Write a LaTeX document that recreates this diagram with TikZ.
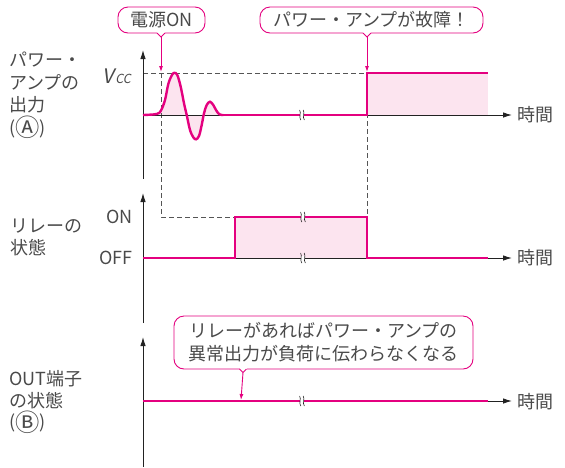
\documentclass[tikz,border=0pt]{standalone}
\usepackage{fontspec}
\setmainfont{Noto Sans CJK JP}
\newfontfamily\slfont{Noto Sans CJK JP}[FakeSlant=0.2]
\usetikzlibrary{arrows.meta}
\definecolor{mag}{HTML}{E4007F}
\definecolor{pinkfill}{HTML}{FCE4EF}
\definecolor{txt}{HTML}{4A4A4A}
\definecolor{axc}{HTML}{222222}
\definecolor{dsh}{HTML}{555555}
\newcommand\mycircled[1]{\raisebox{-2.3pt}{\scalebox{1.35}{#1}}}
\begin{document}
\begin{tikzpicture}[x=1pt,y=-1pt,
  axis/.style={draw=axc,line width=0.9pt},
  axarrow/.style={axis,-{Latex[length=9pt,width=5.5pt]}},
  sig/.style={draw=mag,line width=2.4pt},
  guide/.style={draw=dsh,line width=0.9pt,dash pattern=on 5pt off 3pt},
  lbl/.style={text=txt,font=\fontsize{18}{22}\selectfont,inner sep=0pt},
  callout/.style={draw=mag,line width=0.9pt,fill=white,rounded corners=10pt,text=txt,
    font=\fontsize{18}{23}\selectfont,inner sep=0pt,align=center},
  ptr/.style={draw=mag,line width=0.9pt,-{Latex[length=6pt,width=4pt]}},
  notch/.style={draw=mag,line width=0.9pt},
  brk/.pic={
    \fill[white] (-1.7,-2.2) rectangle (1.7,2.2);
    \draw[axc,line width=0.6pt] (-2.4,-5) .. controls (-0.4,-2) and (-3.6,2) .. (-1.2,5);
    \draw[axc,line width=0.6pt] (1.2,-5) .. controls (3.2,-2) and (0,2) .. (2.4,5);
  }
]
\useasboundingbox (0,0) rectangle (565,467);

% ---------- fills ----------
\fill[pinkfill] plot[smooth,tension=0.55] coordinates {
 (143,115) (156.7,114) (161,110.5) (165,100) (168.3,84) (171.7,75.5) (174.3,72.8)
 (177.3,75) (180.7,86.7) (184,103.3) (186.7,115) (190,130) (193.3,137.3) (196,139.3)
 (199,136) (201.7,125) (204,113.3) (206.7,105) (210,101.7) (213.3,105) (216,110)
 (219.3,114.3) (223.3,115)} -- cycle;
\fill[pinkfill] (367,73) rectangle (488,115);
\fill[pinkfill] (235,217) rectangle (367,258);

% ---------- dashed guides ----------
\coordinate (vccL) at (143,73);
\coordinate (vccR) at (367,73);
\coordinate (onA) at (161,73);
\coordinate (onB) at (161,217);
\coordinate (onC) at (235,217);
\coordinate (offA) at (367,217);
\draw[guide] (vccL) -- (vccR) -- (offA);
\draw[guide] (onA) -- (onB) -- (onC);

% ---------- axes ----------
\coordinate (a1b) at (143,179); \coordinate (a1t) at (143,50);
\coordinate (a1o) at (143,115); \coordinate (a1r) at (512,115);
\coordinate (a2b) at (143,323); \coordinate (a2t) at (143,193);
\coordinate (a2o) at (143,258); \coordinate (a2r) at (512,258);
\coordinate (a3b) at (143,467); \coordinate (a3t) at (143,337);
\coordinate (a3o) at (143,401); \coordinate (a3r) at (512,401);
\draw[axarrow] (a1b) -- (a1t);
\draw[axarrow] (a1o) -- (a1r);
\draw[axarrow] (a2b) -- (a2t);
\draw[axarrow] (a2o) -- (a2r);
\draw[axarrow] (a3b) -- (a3t);
\draw[axarrow] (a3o) -- (a3r);

% ---------- signals ----------
\draw[sig] plot[smooth,tension=0.55] coordinates {
 (143,115) (156.7,114) (161,110.5) (165,100) (168.3,84) (171.7,75.5) (174.3,72.8)
 (177.3,75) (180.7,86.7) (184,103.3) (186.7,115) (190,130) (193.3,137.3) (196,139.3)
 (199,136) (201.7,125) (204,113.3) (206.7,105) (210,101.7) (213.3,105) (216,110)
 (219.3,114.3) (223.3,115)};
\draw[sig] (223,115) -- (367,115) -- (367,73) -- (488,73);
\draw[sig] (a2o) -- (235,258) -- (235,217) -- (367,217) -- (367,258) -- (488,258);
\draw[sig] (a3o) -- (488,401);

% ---------- break marks ----------
\pic at (302,115) {brk};
\pic at (303,217) {brk};
\pic at (303,258) {brk};
\pic at (302,401) {brk};

% ---------- labels ----------
\node[lbl,anchor=west,align=left,font=\fontsize{18}{22.7}\selectfont] (labA) at (9,95.5)
  {パワー・\\アンプの\\出力\\(\mycircled{Ⓐ})};
\node[lbl,anchor=west,align=left] (labR) at (10,237) {リレーの\\状態};
\node[lbl,anchor=west,align=left,font=\fontsize{18}{21.5}\selectfont] (labO) at (9,402)
  {OUT端子\\の状態\\(\mycircled{Ⓑ})};
\node[lbl,anchor=east] (vcc) at (131,76)
  {{\slfont\fontsize{20}{20}\selectfont V}\kern1.5pt{\slfont\fontsize{12.5}{12.5}\selectfont CC}};
\node[lbl,anchor=east] (on) at (133,217) {ON};
\node[lbl,anchor=east] (off) at (133,258) {OFF};
\node[lbl,anchor=west] (t1) at (517,115) {時間};
\node[lbl,anchor=west] (t2) at (517,258) {時間};
\node[lbl,anchor=west] (t3) at (517,402) {時間};

% ---------- callouts ----------
\node[callout,minimum width=87pt,minimum height=26pt] (c1) at (161.5,20) {電源ON};
\node[callout,minimum width=223pt,minimum height=26pt] (c2) at (371.5,20) {パワー・アンプが故障！};
\node[callout,minimum width=299pt,minimum height=53pt] (c3) at (323.5,342.5)
  {リレーがあればパワー・アンプの\\異常出力が負荷に伝わらなくなる};

\coordinate (n1) at (161,37);
\coordinate (n2) at (367,37);
\coordinate (n3) at (243,372.5);
\coordinate (p1) at (161,72);
\coordinate (p2) at (367,72);
\coordinate (p3) at (241,400);

\fill[white] (157,31.8) rectangle (165,34.2);
\draw[notch] (157,33) -- (n1) -- (165,33);
\fill[white] (363,31.8) rectangle (371,34.2);
\draw[notch] (363,33) -- (n2) -- (371,33);
\fill[white] (239.5,367.8) rectangle (246.5,370.2);
\draw[notch] (239.5,369) -- (n3) -- (246.5,369);

\draw[ptr] (n1) -- (p1);
\draw[ptr] (n2) -- (p2);
\draw[ptr] (n3) -- (p3);
\end{tikzpicture}
\end{document}
